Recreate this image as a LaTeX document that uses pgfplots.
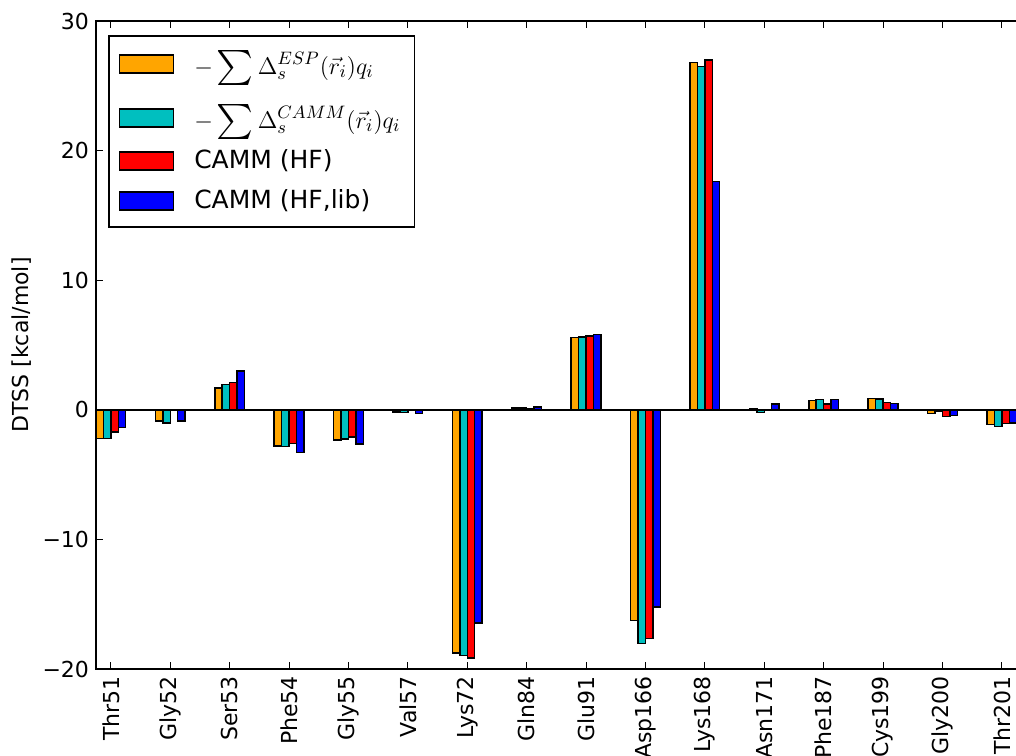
\documentclass[border=0pt]{standalone}
\usepackage{graphicx}
\usepackage{pgfplots}
\usepackage{pgfplotstable}
\pgfplotsset{compat=1.18}
\usepackage{exscale}
\usepackage{fontspec}
\setmainfont{DejaVu Sans}
\definecolor{mplorange}{RGB}{255,165,0}
\definecolor{mplcyan}{RGB}{0,191,191}
\definecolor{mplred}{RGB}{255,0,0}
\definecolor{mplblue}{RGB}{0,0,255}
\newcommand{\bigsum}{\mathop{\vcenter{\hbox{\resizebox*{!}{17.5pt}{$\sum$}}}}}

\pgfplotstableread{
x esp camm hf hflib
0 -2.20 -2.20 -1.70 -1.35
1 -0.85 -1.00 -0.05 -0.85
2 1.70 1.97 2.10 3.00
3 -2.80 -2.82 -2.60 -3.30
4 -2.33 -2.25 -2.10 -2.65
5 -0.18 -0.22 -0.03 -0.30
6 -18.75 -18.95 -19.15 -16.45
7 0.15 0.12 0.08 0.20
8 5.58 5.63 5.70 5.80
9 -16.25 -18.05 -17.65 -15.20
10 26.80 26.50 27.00 17.60
11 0.10 -0.22 0.04 0.43
12 0.70 0.78 0.45 0.80
13 0.88 0.85 0.57 0.50
14 -0.30 -0.15 -0.50 -0.43
15 -1.13 -1.27 -1.05 -1.00
}\datatable

\pgfplotsset{
  mybar/.style={ybar, bar width=0.125, draw=black, line width=0.75pt,
    legend image code/.code={\draw[##1, line width=0.75pt] (0pt,-4.5pt) rectangle (27pt,4.5pt);}},
}

\begin{document}
\begin{tikzpicture}
\path[use as bounding box] (-48pt,-43pt) rectangle (460pt,334.5pt);
\clip (-48pt,-43pt) rectangle (460pt,334.5pt);
\begin{axis}[
  at={(0pt,0pt)}, anchor=south west,
  scale only axis,
  width=475.2pt, height=324pt,
  xmin=-0.25, xmax=15.75, ymin=-20, ymax=30,
  xtick={0,1,2,3,4,5,6,7,8,9,10,11,12,13,14,15},
  xticklabels={Thr51,Gly52,Ser53,Phe54,Gly55,Val57,Lys72,Gln84,Glu91,Asp166,Lys168,Asn171,Phe187,Cys199,Gly200,Thr201},
  ytick={-20,-10,0,10,20,30},
  yticklabels={−20,−10,0,10,20,30},
  xticklabel style={rotate=90, anchor=east, font=\fontsize{11}{13}\selectfont},
  yticklabel style={font=\fontsize{11}{13}\selectfont},
  tick align=inside,
  major tick length=3.5pt,
  minor tick num=0,
  tick style={black, line width=0.5pt},
  axis line style={black, line width=0.75pt},
  ylabel={DTSS [kcal/mol]},
  ylabel style={at={(axis description cs:-0.0779,0.5)}, anchor=center, font=\fontsize{11}{13}\selectfont},
  legend cell align=left,
  legend style={at={(axis description cs:0.0126,0.9784)}, anchor=north west,
    draw=black, line width=0.8pt, font=\fontsize{12.5}{15}\selectfont,
    inner xsep=5pt, inner ysep=0.75pt, row sep=0pt,
    nodes={inner ysep=0pt},
    /tikz/every odd column/.append style={column sep=8pt}},
]
\addplot[mybar, fill=mplorange, bar shift=-0.1875] table[x=x, y=esp] {\datatable};
\addlegendentry[minimum height=26.5pt]{$\displaystyle -\bigsum\Delta_s^{ESP}(\vec{r}_i)q_i$}
\addplot[mybar, fill=mplcyan, bar shift=-0.0625] table[x=x, y=camm] {\datatable};
\addlegendentry[minimum height=27.5pt]{$\displaystyle -\bigsum\Delta_s^{CAMM}(\vec{r}_i)q_i$}
\addplot[mybar, fill=mplred, bar shift=0.0625] table[x=x, y=hf] {\datatable};
\addlegendentry[minimum height=15.5pt]{CAMM (HF)}
\addplot[mybar, fill=mplblue, bar shift=0.1875] table[x=x, y=hflib] {\datatable};
\addlegendentry[minimum height=24.5pt]{CAMM (HF,lib)}
\addplot[black, line width=0.8pt, forget plot, sharp plot, mark=none] coordinates {(-1,0) (17,0)};
\end{axis}
\end{tikzpicture}
\end{document}
